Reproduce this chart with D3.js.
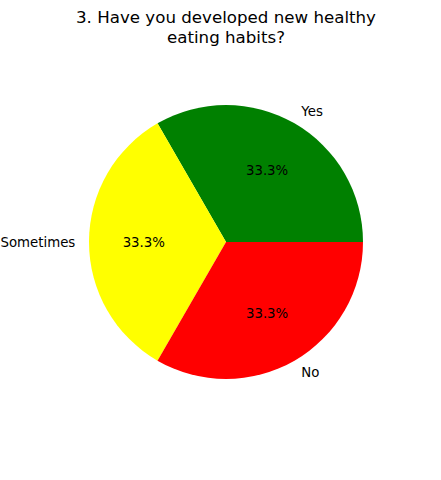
<!DOCTYPE html>
<html><head><meta charset="utf-8">
<script src="https://cdn.jsdelivr.net/npm/d3@7"></script>
<style>html,body{margin:0;padding:0;background:#fff;}</style>
</head><body>
<svg id="c" width="441" height="480"></svg>
<script>
const categories = ["Yes", "Sometimes", "No"];
const values = [1, 1, 1];
const colors = ["#008000", "#ffff00", "#ff0000"];
const titleLines = ["3. Have you developed new healthy", "eating habits?"];

const svg = d3.select("#c");
const cx = 226, cy = 242, r = 137;
const font = "DejaVu Sans, sans-serif";

const t = svg.append("text").attr("x", cx).attr("text-anchor", "middle")
  .attr("font-family", font).attr("font-size", "16.67px").attr("fill", "#000");
titleLines.forEach((l, i) => t.append("tspan").attr("x", cx).attr("y", 23 + i * 19.5).text(l));

const pie = d3.pie().sort(null).value(d => d).startAngle(Math.PI / 2).endAngle(Math.PI / 2 - 2 * Math.PI);
const arcs = pie(values);
const arc = d3.arc().innerRadius(0).outerRadius(r);
const g = svg.append("g").attr("transform", `translate(${cx},${cy})`);
g.selectAll("path").data(arcs).join("path").attr("d", arc).attr("fill", (d, i) => colors[i]);

const total = d3.sum(values);
arcs.forEach((d, i) => {
  const a = (d.startAngle + d.endAngle) / 2;
  const sx = Math.sin(a), sy = -Math.cos(a);
  g.append("text").attr("x", 1.1 * r * sx).attr("y", 1.1 * r * sy)
    .attr("dy", "0.35em")
    .attr("text-anchor", sx > 0.001 ? "start" : (sx < -0.001 ? "end" : "middle"))
    .attr("font-family", font).attr("font-size", "13.33px").attr("fill", "#000")
    .text(categories[i]);
  g.append("text").attr("x", 0.6 * r * sx).attr("y", 0.6 * r * sy)
    .attr("dy", "0.35em").attr("text-anchor", "middle")
    .attr("font-family", font).attr("font-size", "13.33px").attr("fill", "#000")
    .text((100 * d.value / total).toFixed(1) + "%");
});
</script>
</body></html>
